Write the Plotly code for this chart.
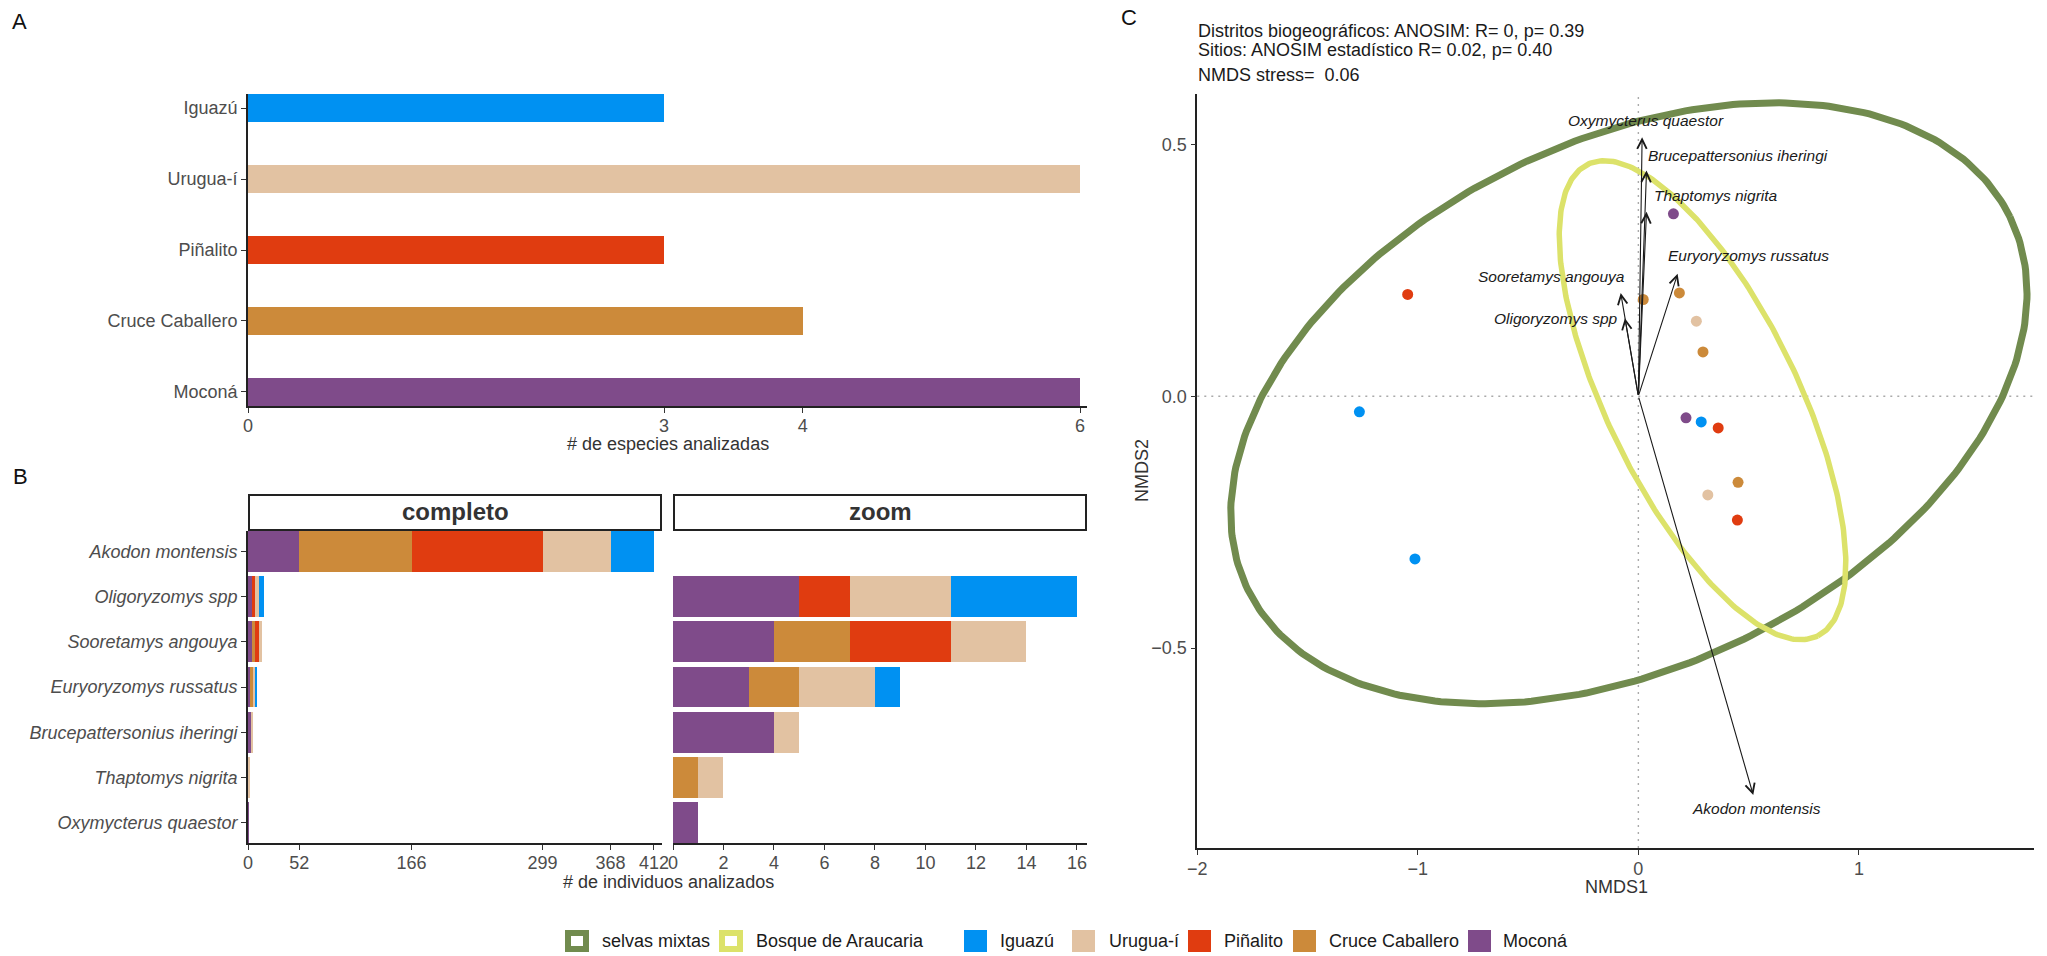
import numpy as np
import plotly.graph_objects as go

W, H = 2047, 956
FONT = "Liberation Sans, Arial, Helvetica, sans-serif"

# ---------------- data ----------------
sites = ["Moconá", "Cruce Caballero", "Piñalito", "Urugua-í", "Iguazú"]
site_colors = ["#7F4B8A", "#CC8A3A", "#E03C10", "#E2C2A2", "#0091F2"]
legend_sites = ["Iguazú", "Urugua-í", "Piñalito", "Cruce Caballero", "Moconá"]

species = ["Akodon montensis", "Oligoryzomys spp", "Sooretamys angouya",
           "Euryoryzomys russatus", "Brucepattersonius iheringi",
           "Thaptomys nigrita", "Oxymycterus quaestor"]
n_mocona = [52, 5, 4, 3, 4, 0, 1]
n_cruce = [114, 0, 3, 2, 0, 1, 0]
n_pinalito = [133, 2, 4, 0, 0, 0, 0]
n_urugua = [69, 4, 3, 3, 1, 1, 0]
n_iguazu = [44, 5, 0, 1, 0, 0, 0]
counts_by_site = [n_mocona, n_cruce, n_pinalito, n_urugua, n_iguazu]
n_species = [sum(1 for c in cnt if c > 0) for cnt in counts_by_site]

nmds_site = ["Moconá", "Piñalito", "Cruce Caballero", "Cruce Caballero", "Urugua-í",
             "Cruce Caballero", "Iguazú", "Moconá", "Iguazú", "Piñalito",
             "Cruce Caballero", "Urugua-í", "Piñalito", "Iguazú"]
nmds1 = [0.159, -1.046, 0.022, 0.186, 0.263, 0.293, -1.265, 0.216, 0.285, 0.362,
         0.452, 0.315, 0.449, -1.013]
nmds2 = [0.362, 0.202, 0.192, 0.205, 0.149, 0.088, -0.031, -0.043, -0.051, -0.063,
         -0.171, -0.196, -0.246, -0.323]

vec_species = ["Oxymycterus quaestor", "Brucepattersonius iheringi", "Thaptomys nigrita",
               "Euryoryzomys russatus", "Sooretamys angouya", "Oligoryzomys spp",
               "Akodon montensis"]
vec_nmds1 = [0.017, 0.037, 0.037, 0.178, -0.080, -0.061, 0.521]
vec_nmds2 = [0.514, 0.448, 0.366, 0.243, 0.205, 0.155, -0.792]
vec_label_x = [0.034, 0.454, 0.352, 0.501, -0.394, -0.374, 0.535]
vec_label_y = [0.548, 0.478, 0.399, 0.280, 0.238, 0.154, -0.819]

ellipse_groups = ["selvas mixtas", "Bosque de Araucaria"]
ellipse_colors = ["#718B4E", "#DCE26A"]
ellipse_cx = [-0.043, 0.291]
ellipse_cy = [-0.014, -0.008]
ellipse_major = [(1.728, 0.370), (0.522, -0.468)]
ellipse_minor = [(0.523, -0.468), (0.387, 0.084)]

stats_lines = ["Distritos biogeográficos: ANOSIM: R= 0, p= 0.39",
               "Sitios: ANOSIM estadístico R= 0.02, p= 0.40"]
stress_text = "NMDS stress=\u00a0 0.06"

# ---------------- helpers ----------------
def pxx(p):
    return p / W


def pxy(p):
    return 1 - p / H


color_of = dict(zip(sites, site_colors))

fig = go.Figure()

# Panel A
fig.add_trace(go.Bar(x=n_species, y=sites, orientation="h", width=0.4,
                     marker=dict(color=site_colors, line=dict(width=0)),
                     xaxis="x", yaxis="y", showlegend=False))

# Panel B (completo / zoom)
for s, cnt in zip(sites, counts_by_site):
    fig.add_trace(go.Bar(x=cnt, y=species, orientation="h", width=0.9, name=s,
                         marker=dict(color=color_of[s], line=dict(width=0)),
                         xaxis="x2", yaxis="y2", showlegend=False))
for s, cnt in zip(sites, counts_by_site):
    fig.add_trace(go.Bar(x=cnt[1:], y=species[1:], orientation="h", width=0.9, name=s,
                         marker=dict(color=color_of[s], line=dict(width=0)),
                         xaxis="x3", yaxis="y3", showlegend=False))

# Panel C: ellipses
t = np.linspace(0, 2 * np.pi, 361)
for g, col, cx, cy, mj, mn, lw in zip(ellipse_groups, ellipse_colors, ellipse_cx,
                                       ellipse_cy, ellipse_major, ellipse_minor, [7, 5.5]):
    ex = cx + mj[0] * np.cos(t) + mn[0] * np.sin(t)
    ey = cy + mj[1] * np.cos(t) + mn[1] * np.sin(t)
    fig.add_trace(go.Scatter(x=ex, y=ey, mode="lines", name=g,
                             line=dict(color=col, width=lw),
                             xaxis="x4", yaxis="y4", showlegend=False))

# Panel C: points
fig.add_trace(go.Scatter(x=nmds1, y=nmds2, mode="markers",
                         marker=dict(color=[color_of[s] for s in nmds_site], size=11,
                                     line=dict(width=0)),
                         xaxis="x4", yaxis="y4", showlegend=False))

tickfont = dict(family=FONT, size=18, color="#4D4D4D")


def axstyle(**kw):
    d = dict(showgrid=False, zeroline=False, showline=True, linecolor="#222222",
             linewidth=1.6, ticks="outside", ticklen=5, tickwidth=1.4,
             tickcolor="#333333", tickfont=tickfont, fixedrange=True,
             automargin=False)
    d.update(kw)
    return d


ticks_b_left = [0] + list(np.cumsum(n_mocona[:1] + n_cruce[:1] + n_pinalito[:1] +
                                    n_urugua[:1] + n_iguazu[:1]))
ticks_a = sorted(set([0] + n_species))

fig.update_layout(
    width=W, height=H,
    margin=dict(l=0, r=0, t=0, b=0, pad=0, autoexpand=False),
    paper_bgcolor="white", plot_bgcolor="white", barmode="stack",
    showlegend=False, font=dict(family=FONT, size=18, color="#222222"),
    xaxis=axstyle(domain=[pxx(248), pxx(1087)], range=[0, 6.05], anchor="y",
                  tickmode="array", tickvals=ticks_a, ticklabelstandoff=-2),
    yaxis=axstyle(domain=[pxy(406), pxy(94)], range=[-0.2, 4.2], anchor="x",
                  type="category", categoryorder="array", categoryarray=sites),
    xaxis2=axstyle(domain=[pxx(248), pxx(662)], range=[0, 420.2], anchor="y2",
                   tickmode="array", tickvals=[int(v) for v in ticks_b_left],
                   ticklabelstandoff=-2),
    yaxis2=axstyle(domain=[pxy(843), pxy(531)], range=[-0.45, 6.45], anchor="x2",
                   type="category", categoryorder="array", categoryarray=species[::-1],
                   tickfont=dict(family=FONT, size=18, color="#4D4D4D", style="italic")),
    xaxis3=axstyle(domain=[pxx(673), pxx(1087)], range=[0, 16.4], anchor="y3",
                   tickmode="array", tickvals=list(range(0, 17, 2)),
                   ticklabelstandoff=-2),
    yaxis3=axstyle(domain=[pxy(843), pxy(531)], range=[-0.45, 6.45], anchor="x3",
                   type="category", categoryorder="array", categoryarray=species[::-1],
                   showline=False, ticks="", showticklabels=False),
    xaxis4=axstyle(domain=[pxx(1197.3), pxx(2034)], range=[-2, 1.794], anchor="y4",
                   tickmode="array", tickvals=[-2, -1, 0, 1], ticklabelstandoff=-1),
    yaxis4=axstyle(domain=[pxy(848), pxy(94)], range=[-0.897, 0.6], anchor="x4",
                   tickmode="array", tickvals=[-0.5, 0.0, 0.5], tickformat=".1f"),
)

shapes = []
# dotted reference lines in panel C
shapes.append(dict(type="line", xref="x4", yref="y4 domain", x0=0, x1=0, y0=0, y1=1,
                   line=dict(color="#AAAAAA", width=1.4, dash="2px,5px"), layer="below"))
shapes.append(dict(type="line", xref="x4 domain", yref="y4", x0=0, x1=1, y0=0, y1=0,
                   line=dict(color="#AAAAAA", width=1.4, dash="2px,5px"), layer="below"))
# facet strips
for x0, x1 in [(248, 662), (673, 1087)]:
    shapes.append(dict(type="rect", xref="paper", yref="paper",
                       x0=pxx(x0 + 1), x1=pxx(x1 - 1), y0=pxy(530), y1=pxy(495),
                       line=dict(color="#222222", width=2), fillcolor="white"))

annotations = []
strip_labels = ["completo", "zoom"]
for lab, xc in zip(strip_labels, [455, 880]):
    annotations.append(dict(text="<b>%s</b>" % lab, xref="paper", yref="paper",
                            x=pxx(xc), y=pxy(512), xanchor="center", yanchor="middle",
                            showarrow=False, font=dict(family=FONT, size=24, color="#333333")))

# panel letters
for lab, xx, yy in [("A", 19, 22), ("B", 20, 476), ("C", 1129, 17)]:
    annotations.append(dict(text=lab, xref="paper", yref="paper", x=pxx(xx), y=pxy(yy),
                            xanchor="center", yanchor="middle", showarrow=False,
                            font=dict(family=FONT, size=22, color="#111111")))

# axis titles
axis_titles = [("# de especies analizadas", 668, 444, 0),
               ("# de individuos analizados", 668, 882, 0),
               ("NMDS1", 1616, 887, 0),
               ("NMDS2", 1142, 471, -90)]
for txt, xx, yy, ang in axis_titles:
    annotations.append(dict(text=txt, xref="paper", yref="paper", x=pxx(xx), y=pxy(yy),
                            xanchor="center", yanchor="middle", showarrow=False,
                            textangle=ang,
                            font=dict(family=FONT, size=18, color="#333333")))

# panel C header text
for txt, yy in zip(stats_lines + [stress_text], [31, 49.5, 75]):
    annotations.append(dict(text=txt, xref="paper", yref="paper", x=pxx(1196), y=pxy(yy),
                            xanchor="left", yanchor="middle", showarrow=False,
                            font=dict(family=FONT, size=18, color="#1A1A1A")))

# species vectors
for vx, vy in zip(vec_nmds1, vec_nmds2):
    annotations.append(dict(x=vx, y=vy, ax=0, ay=0, xref="x4", yref="y4",
                            axref="x4", ayref="y4", text="", showarrow=True,
                            arrowhead=5, arrowsize=1.7, arrowwidth=1.1,
                            arrowcolor="#1A1A1A", standoff=0, startstandoff=0))
for sp, lx, ly in zip(vec_species, vec_label_x, vec_label_y):
    annotations.append(dict(text=sp, x=lx, y=ly, xref="x4", yref="y4",
                            xanchor="center", yanchor="middle", showarrow=False,
                            font=dict(family=FONT, size=15.5, color="#1A1A1A",
                                      style="italic")))

# manual legend
leg_y0, leg_y1, leg_yc = 930, 952, 941
ellipse_keys = [(565, 600), (719, 754)]
for (bx, tx), g, col in zip(ellipse_keys, ellipse_groups, ellipse_colors):
    shapes.append(dict(type="rect", xref="paper", yref="paper",
                       x0=pxx(bx + 3), x1=pxx(bx + 21), y0=pxy(leg_y1 - 3),
                       y1=pxy(leg_y0 + 3), line=dict(color=col, width=6),
                       fillcolor="white"))
    annotations.append(dict(text=g, xref="paper", yref="paper", x=pxx(tx), y=pxy(leg_yc),
                            xanchor="left", yanchor="middle", showarrow=False,
                            font=dict(family=FONT, size=18, color="#1A1A1A")))
site_keys = [(964, 998), (1072, 1107), (1188, 1222), (1293, 1327), (1468, 1501)]
for (bx, tx), s in zip(site_keys, legend_sites):
    shapes.append(dict(type="rect", xref="paper", yref="paper",
                       x0=pxx(bx), x1=pxx(bx + 23), y0=pxy(leg_y1), y1=pxy(leg_y0),
                       line=dict(width=0), fillcolor=color_of[s]))
    annotations.append(dict(text=s, xref="paper", yref="paper", x=pxx(tx), y=pxy(leg_yc),
                            xanchor="left", yanchor="middle", showarrow=False,
                            font=dict(family=FONT, size=18, color="#1A1A1A")))

fig.update_layout(shapes=shapes, annotations=annotations)
fig.write_html("out.html", config={"displayModeBar": False},
               post_script="document.body.style.margin='0';"
                           "document.body.style.padding='0';"
                           "document.body.style.overflow='hidden';")
